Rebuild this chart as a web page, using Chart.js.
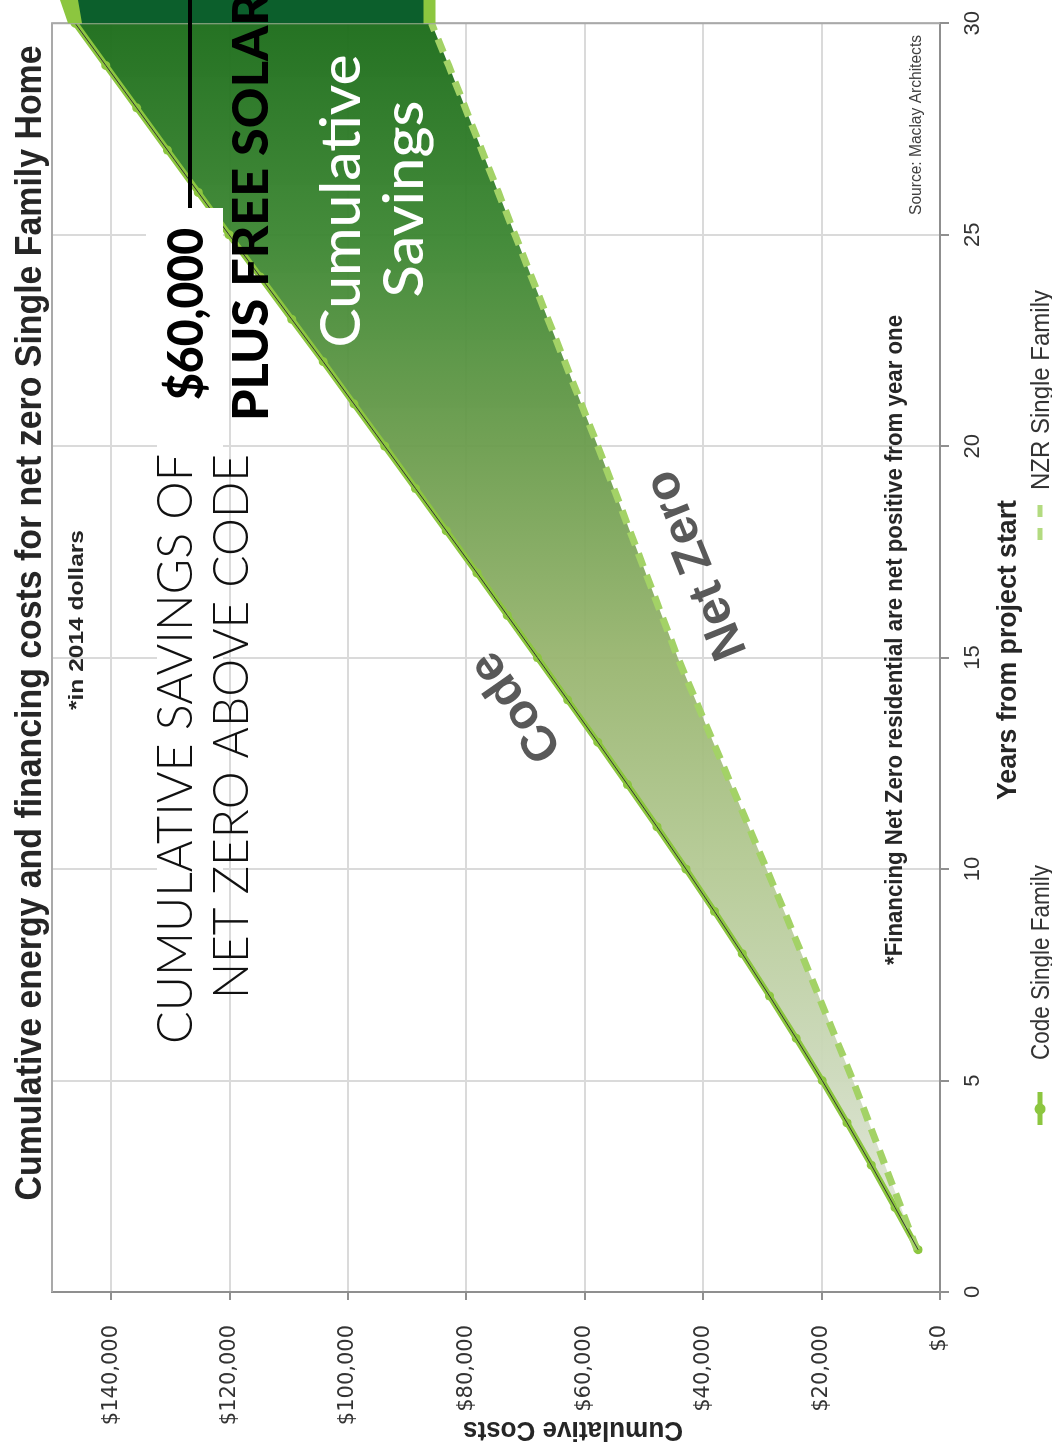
<!DOCTYPE html>
<html>
<head>
<meta charset="utf-8">
<title>Cumulative energy and financing costs for net zero Single Family Home</title>
<script src="https://cdn.jsdelivr.net/npm/chart.js@4.4.0/dist/chart.umd.min.js"></script>
<style>
  html, body { margin: 0; padding: 0; background: #fff; width: 1052px; height: 1455px; overflow: hidden; }
  /* The chart is laid out landscape and turned a quarter-turn counter-clockwise */
  #frame { position: absolute; left: 0; top: 0; width: 1455px; height: 1052px;
           transform-origin: 0 0; transform: translate(0px, 1455px) rotate(-90deg); background: #fff; }
  canvas { display: block; }
</style>
</head>
<body>
<div id="frame"><canvas id="chart" width="1455" height="1052"></canvas></div>
<script>
// Years from project start
const years = [1, 2, 3, 4, 5, 6, 7, 8, 9, 10, 11, 12, 13, 14, 15,
               16, 17, 18, 19, 20, 21, 22, 23, 24, 25, 26, 27, 28, 29, 30];

// Cumulative energy + financing costs, 2014 dollars
const codeCosts = [3700, 7600, 11600, 15700, 19900, 24300, 28800, 33400, 38100, 42900,
                   47800, 52800, 57800, 62900, 68000, 73100, 78200, 83400, 88600, 93800,
                   99000, 104200, 109500, 114800, 120100, 125300, 130500, 135700, 140900, 146100];
const nzrCosts  = [3900, 6600, 9300, 12000, 14700, 17600, 20500, 23400, 26300, 29300,
                   32300, 35300, 38300, 41300, 44300, 47000, 49700, 52400, 55100, 57800,
                   60600, 63400, 66200, 69000, 71800, 74600, 77400, 80200, 83000, 85900];

// Axis ticks
const yearTicks = [0, 5, 10, 15, 20, 25, 30];
const costTicks = [0, 20000, 40000, 60000, 80000, 100000, 120000, 140000];
const costMax = 150000;

const seriesNames = ['Code Single Family', 'NZR Single Family'];

const LIME = '#8cc63f';
const LIME_DASH = '#a3d266';

function points(values) {
  return years.map((t, i) => ({ x: t, y: values[i] }));
}

// Green band between the two cost curves, pale in early years, dark by year 30
function savingsFill(context) {
  const chart = context.chart;
  const area = chart.chartArea;
  if (!area) return '#9cb874';
  const g = chart.ctx.createLinearGradient(area.left, 0, area.right, 0);
  g.addColorStop(0.00, 'rgba(228,233,222,0.95)');
  g.addColorStop(0.08, 'rgba(220,227,210,0.95)');
  g.addColorStop(0.17, 'rgba(204,217,187,0.95)');
  g.addColorStop(0.33, 'rgba(181,202,149,0.95)');
  g.addColorStop(0.50, 'rgba(152,181,111,0.95)');
  g.addColorStop(0.67, 'rgba(106,156,76,0.95)');
  g.addColorStop(0.83, 'rgba(61,135,51,0.96)');
  g.addColorStop(1.00, 'rgba(30,110,28,0.97)');
  return g;
}

// Draws a string squeezed or stretched horizontally to a set width
function fitText(ctx, text, x, y, width, font, color, align, angle, baseline) {
  ctx.save();
  ctx.font = font;
  ctx.fillStyle = color;
  ctx.textAlign = align || 'left';
  ctx.textBaseline = baseline || 'alphabetic';
  const w = ctx.measureText(text).width;
  const sx = width ? width / w : 1;
  ctx.translate(x, y);
  if (angle) ctx.rotate(angle);
  ctx.scale(sx, 1);
  ctx.fillText(text, 0, 0);
  ctx.restore();
}

const annotations = {
  id: 'annotations',
  afterDraw(chart) {
    const ctx = chart.ctx;
    const a = chart.chartArea;
    const xs = chart.scales.x, ys = chart.scales.y;
    const W = chart.width;

    // plot frame (top and right edges)
    ctx.save();
    ctx.strokeStyle = '#a9a9a9';
    ctx.lineWidth = 2;
    ctx.beginPath();
    ctx.moveTo(a.left, a.top);
    ctx.lineTo(a.right, a.top);
    ctx.lineTo(a.right, a.bottom);
    ctx.stroke();

    // savings band continued past the last year
    const yc = ys.getPixelForValue(codeCosts[codeCosts.length - 1]);
    const yn = ys.getPixelForValue(nzrCosts[nzrCosts.length - 1]);
    ctx.fillStyle = LIME;
    ctx.beginPath();
    ctx.moveTo(a.right, yc - 7);
    ctx.lineTo(W, yc - 15);
    ctx.lineTo(W, yn + 4);
    ctx.lineTo(a.right, yn + 4);
    ctx.closePath();
    ctx.fill();
    ctx.fillStyle = '#0c5f2c';
    ctx.beginPath();
    ctx.moveTo(a.right, yc + 7);
    ctx.lineTo(W, yc + 3);
    ctx.lineTo(W, yn - 8);
    ctx.lineTo(a.right, yn - 8);
    ctx.closePath();
    ctx.fill();
    ctx.restore();

    // curve labels
    fitText(ctx, 'Code', xs.getPixelForValue(13.85), ys.getPixelForValue(71500), 0,
            'bold 49px "Liberation Sans", Arial, sans-serif', '#595959', 'center', -35 * Math.PI / 180, 'middle');
    fitText(ctx, 'Net Zero', xs.getPixelForValue(17.2), ys.getPixelForValue(41000), 0,
            'bold 49px "Liberation Sans", Arial, sans-serif', '#595959', 'center', -22 * Math.PI / 180, 'middle');

    // callout boxes
    ctx.save();
    ctx.fillStyle = '#ffffff';
    ctx.fillRect(1015, 146, 232, 77);
    ctx.fillRect(400, 157, 615, 66);
    ctx.strokeStyle = '#000';
    ctx.lineWidth = 4;
    ctx.beginPath();
    ctx.moveTo(1247, 190);
    ctx.lineTo(W, 190);
    ctx.stroke();
    ctx.restore();

    fitText(ctx, 'CUMULATIVE SAVINGS OF', 1001, 192, 590, '300 49px Lato, sans-serif', '#111', 'right');
    fitText(ctx, 'NET ZERO ABOVE CODE', 1001, 248, 545, '300 49px Lato, sans-serif', '#111', 'right');
    fitText(ctx, '$60,000', 1055, 203, 172, '900 50px Lato, sans-serif', '#000', 'left');
    fitText(ctx, 'PLUS FREE SOLAR', 1034, 268, 428, '900 50px Lato, sans-serif', '#000', 'left');
    fitText(ctx, 'Cumulative', 1254, 360, 293, '500 55px Lato, sans-serif', '#ffffff', 'center');
    fitText(ctx, 'Savings', 1256, 423, 197, '500 55px Lato, sans-serif', '#ffffff', 'center');

    // titles and notes
    fitText(ctx, 'Cumulative energy and financing costs for net zero Single Family Home', 832, 41, 1155,
            'bold 37px "Liberation Sans", Arial, sans-serif', '#262626', 'center');
    fitText(ctx, '*in 2014 dollars', 835, 83, 180, 'bold 20px "Liberation Sans", Arial, sans-serif', '#262626', 'center');
    fitText(ctx, '*Financing Net Zero residential are net positive from year one', 815, 902, 650,
            'bold 23px "Liberation Sans", Arial, sans-serif', '#262626', 'center');
    fitText(ctx, 'Source: Maclay Architects', 1420, 921, 180, '16px "Liberation Sans", Arial, sans-serif', '#404040', 'right');
    fitText(ctx, 'Years from project start', 805, 1016, 300, 'bold 27px "Liberation Sans", Arial, sans-serif', '#262626', 'center');
    fitText(ctx, 'Cumulative Costs', 33, 573, 220, 'bold 28px "Liberation Sans", Arial, sans-serif', '#262626', 'center', -Math.PI / 2);

    // legend
    ctx.save();
    ctx.strokeStyle = LIME;
    ctx.lineWidth = 5;
    ctx.beginPath();
    ctx.moveTo(330, 1040);
    ctx.lineTo(363, 1040);
    ctx.stroke();
    ctx.fillStyle = LIME;
    ctx.beginPath();
    ctx.arc(346, 1040, 5.5, 0, Math.PI * 2);
    ctx.fill();
    ctx.strokeStyle = '#b3db80';
    ctx.beginPath();
    ctx.moveTo(915, 1040); ctx.lineTo(927, 1040);
    ctx.moveTo(938, 1040); ctx.lineTo(950, 1040);
    ctx.stroke();
    ctx.restore();
    fitText(ctx, seriesNames[0], 395, 1049, 195, '25px "Liberation Sans", Arial, sans-serif', '#333', 'left');
    fitText(ctx, seriesNames[1], 965, 1049, 200, '25px "Liberation Sans", Arial, sans-serif', '#333', 'left');
  }
};

new Chart(document.getElementById('chart'), {
  type: 'line',
  data: {
    datasets: [
      {
        label: seriesNames[0],
        data: points(codeCosts),
        borderColor: LIME,
        borderWidth: 6,
        pointRadius: 4.5,
        pointBackgroundColor: LIME,
        pointBorderWidth: 0,
        fill: 1,
        backgroundColor: savingsFill,
        order: 3
      },
      {
        label: seriesNames[1],
        data: points(nzrCosts),
        borderColor: LIME_DASH,
        borderWidth: 7,
        borderDash: [14, 9],
        pointRadius: 0,
        fill: false,
        order: 2
      },
      {
        label: 'code edge',
        data: points(codeCosts),
        borderColor: '#333333',
        borderWidth: 1,
        pointRadius: 0,
        fill: false,
        order: 1
      }
    ]
  },
  options: {
    responsive: false,
    animation: false,
    devicePixelRatio: 1,
    layout: { padding: { top: 52, right: 14, left: 0, bottom: 0 } },
    plugins: {
      legend: { display: false },
      tooltip: { enabled: false },
      title: { display: false }
    },
    scales: {
      x: {
        type: 'linear',
        min: 0,
        max: 30,
        afterBuildTicks: s => { s.ticks = yearTicks.map(v => ({ value: v })); },
        afterFit: s => { s.height = 112; },
        grid: { color: '#dadada', lineWidth: 2, tickLength: 9, tickColor: '#8f8f8f' },
        border: { color: '#8f8f8f', width: 2 },
        ticks: {
          color: '#333',
          padding: 11,
          maxRotation: 0,
          font: { family: '"Liberation Sans", Arial, sans-serif', size: 22 }
        }
      },
      y: {
        min: 0,
        max: costMax,
        afterBuildTicks: s => { s.ticks = costTicks.map(v => ({ value: v })); },
        afterFit: s => { s.width = 163; },
        grid: { color: '#dadada', lineWidth: 2, tickLength: 8, tickColor: '#8f8f8f' },
        border: { color: '#8f8f8f', width: 2 },
        ticks: {
          color: '#333',
          padding: 25,
          font: { family: '"DejaVu Sans", Verdana, sans-serif', size: 21 },
          callback: v => '$' + v.toLocaleString('en-US')
        }
      }
    }
  },
  plugins: [annotations]
});
</script>
</body>
</html>
